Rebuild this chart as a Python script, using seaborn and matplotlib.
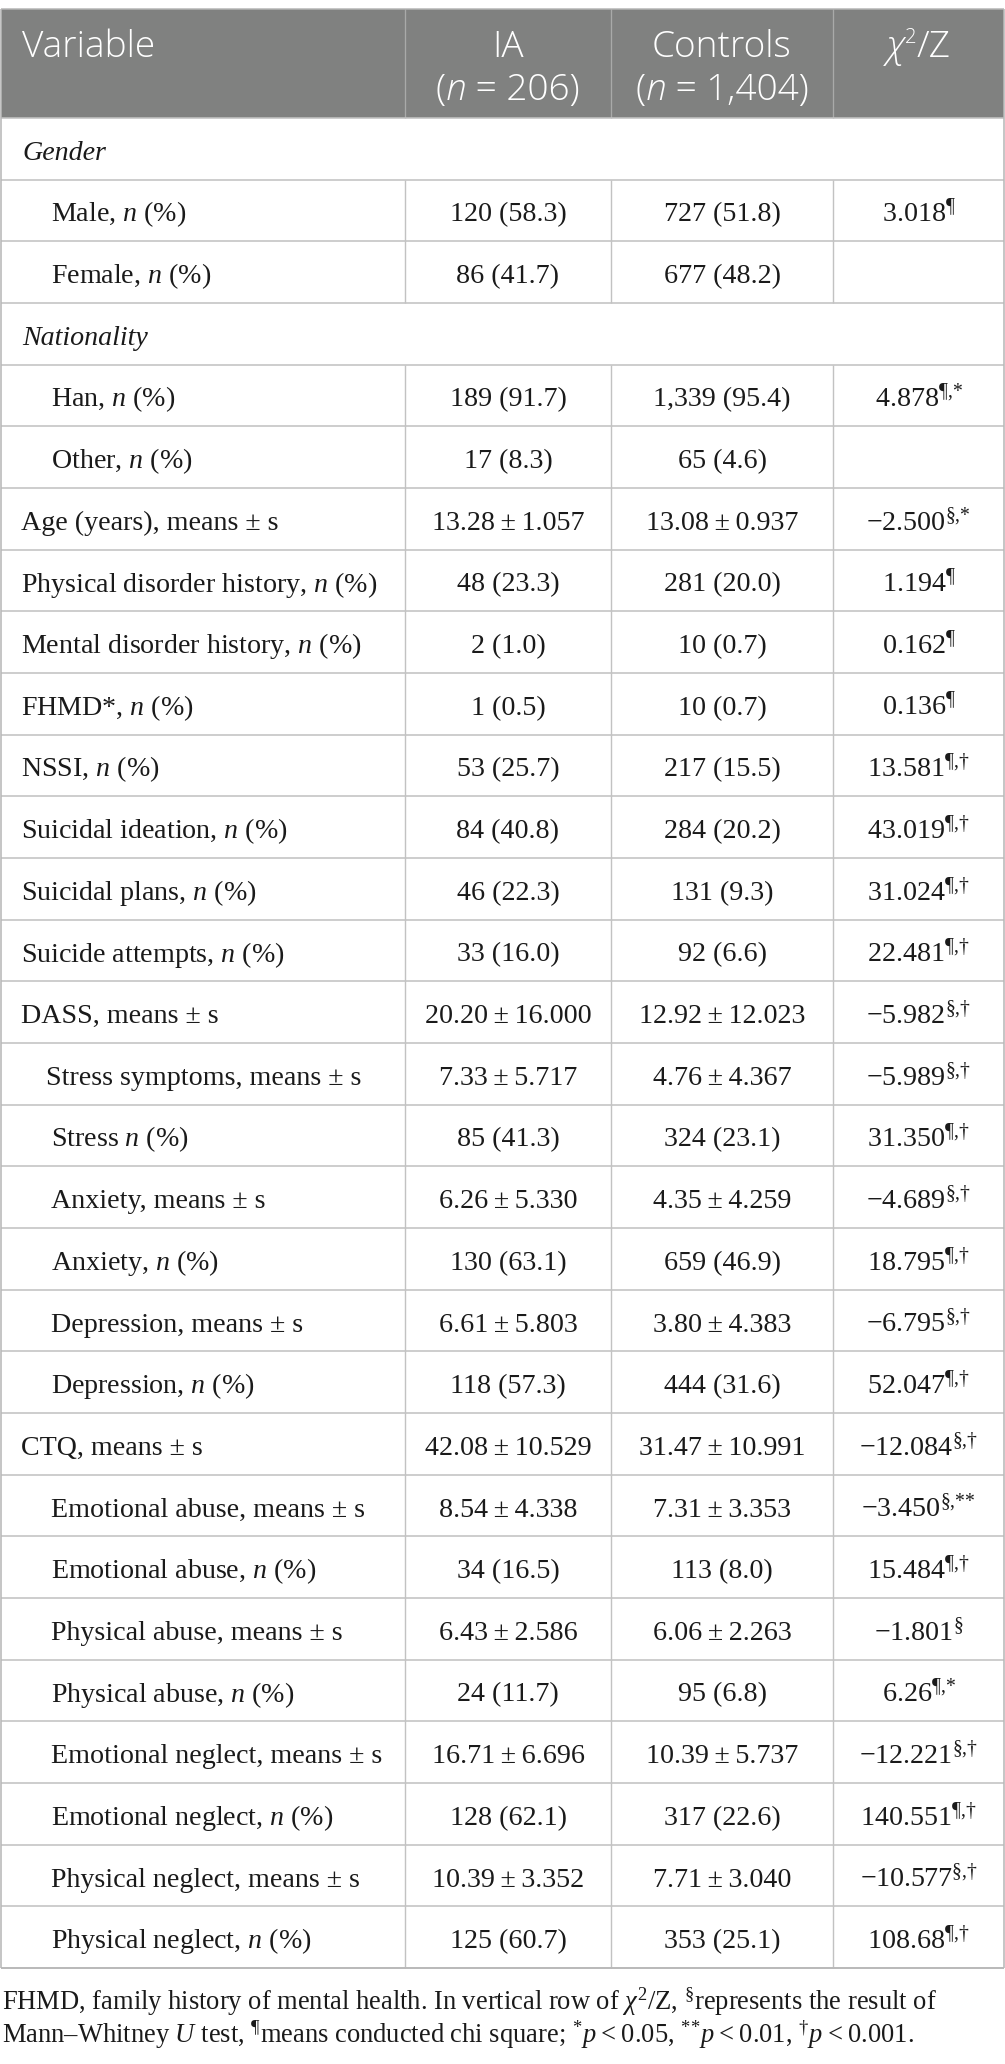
import matplotlib
matplotlib.use("Agg")
import matplotlib.pyplot as plt
import seaborn as sns
from matplotlib.patches import Rectangle

# ---------------- data ----------------
header_titles = ["Variable", "IA", "Controls", "χ2/Z"]
header_sizes = ["", "206", "1,404", ""]

variables = [
    "Gender", "Male, $n$ (%)", "Female, $n$ (%)",
    "Nationality", "Han, $n$ (%)", "Other, $n$ (%)",
    "Age (years), means ± s",
    "Physical disorder history, $n$ (%)",
    "Mental disorder history, $n$ (%)",
    "FHMD*, $n$ (%)",
    "NSSI, $n$ (%)",
    "Suicidal ideation, $n$ (%)",
    "Suicidal plans, $n$ (%)",
    "Suicide attempts, $n$ (%)",
    "DASS, means ± s",
    "Stress symptoms, means ± s",
    "Stress $n$ (%)",
    "Anxiety, means ± s",
    "Anxiety, $n$ (%)",
    "Depression, means ± s",
    "Depression, $n$ (%)",
    "CTQ, means ± s",
    "Emotional abuse, means ± s",
    "Emotional abuse, $n$ (%)",
    "Physical abuse, means ± s",
    "Physical abuse, $n$ (%)",
    "Emotional neglect, means ± s",
    "Emotional neglect, $n$ (%)",
    "Physical neglect, means ± s",
    "Physical neglect, $n$ (%)",
]

# row kind: g = group heading, 0 = top level, 1 = sub item, s = sub item (less indented)
row_kind = ["g", "1", "1", "g", "1", "1", "0", "0", "0", "0", "0", "0", "0", "0",
            "0", "s", "1", "1", "1", "1", "1", "0", "1", "1", "1", "1", "1", "1", "1", "1"]

PM = "\u2009±\u2009"
ia_values = [
    "", "120 (58.3)", "86 (41.7)", "", "189 (91.7)", "17 (8.3)",
    "13.28" + PM + "1.057", "48 (23.3)", "2 (1.0)", "1 (0.5)", "53 (25.7)",
    "84 (40.8)", "46 (22.3)", "33 (16.0)", "20.20" + PM + "16.000",
    "7.33" + PM + "5.717", "85 (41.3)", "6.26" + PM + "5.330", "130 (63.1)",
    "6.61" + PM + "5.803", "118 (57.3)", "42.08" + PM + "10.529",
    "8.54" + PM + "4.338", "34 (16.5)", "6.43" + PM + "2.586", "24 (11.7)",
    "16.71" + PM + "6.696", "128 (62.1)", "10.39" + PM + "3.352", "125 (60.7)",
]
control_values = [
    "", "727 (51.8)", "677 (48.2)", "", "1,339 (95.4)", "65 (4.6)",
    "13.08" + PM + "0.937", "281 (20.0)", "10 (0.7)", "10 (0.7)", "217 (15.5)",
    "284 (20.2)", "131 (9.3)", "92 (6.6)", "12.92" + PM + "12.023",
    "4.76" + PM + "4.367", "324 (23.1)", "4.35" + PM + "4.259", "659 (46.9)",
    "3.80" + PM + "4.383", "444 (31.6)", "31.47" + PM + "10.991",
    "7.31" + PM + "3.353", "113 (8.0)", "6.06" + PM + "2.263", "95 (6.8)",
    "10.39" + PM + "5.737", "317 (22.6)", "7.71" + PM + "3.040", "353 (25.1)",
]
stat_values = [
    "", "3.018", "", "", "4.878", "", "\u22122.500", "1.194", "0.162", "0.136",
    "13.581", "43.019", "31.024", "22.481", "\u22125.982", "\u22125.989",
    "31.350", "\u22124.689", "18.795", "\u22126.795", "52.047", "\u221212.084",
    "\u22123.450", "15.484", "\u22121.801", "6.26", "\u221212.221", "140.551",
    "\u221210.577", "108.68",
]
stat_marks = [
    "", "¶", "", "", "¶,*", "", "§,*", "¶", "¶", "¶",
    "¶,†", "¶,†", "¶,†", "¶,†", "§,†", "§,†",
    "¶,†", "§,†", "¶,†", "§,†", "¶,†", "§,†",
    "§,**", "¶,†", "§", "¶,*", "§,†", "¶,†",
    "§,†", "¶,†",
]
footnote_lines = [
    r"FHMD, family history of mental health. In vertical row of $\chi^2$/Z, $^{\mathrm{§}}$represents the result of",
    "Mann\u2013Whitney $U$ test, $^{\\mathrm{¶}}$means conducted chi square; "
    "$^{{*}}p$\u2009<\u20090.05, $^{{*}{*}}p$\u2009<\u20090.01, $^{\\mathrm{†}}p$\u2009<\u20090.001.",
]

# ---------------- style ----------------
sns.set_theme(style="white")
plt.rcParams["font.family"] = ["Liberation Serif", "DejaVu Serif"]
plt.rcParams["mathtext.fontset"] = "custom"
plt.rcParams["mathtext.rm"] = "Liberation Serif"
plt.rcParams["mathtext.it"] = "Liberation Serif:italic"
plt.rcParams["mathtext.bf"] = "Liberation Serif:bold"

W, H = 1005, 2064
PT = 72 / 100.0
fig = plt.figure(figsize=(W / 100, H / 100), dpi=100)
ax = fig.add_axes([0, 0, 1, 1])
ax.set_xlim(0, W)
ax.set_ylim(H, 0)
ax.axis("off")
renderer = fig.canvas.get_renderer()

col_edges = [1, 405, 611, 833, 1004]
head_top, head_bot = 9, 118
table_bot = 1968
n_rows = len(variables)
row_h = (table_bot - head_bot) / n_rows

HEAD_COL = "#808180"
LINE_COL = "#c2c2c2"
TXT = "#1a1a1a"
body_fs = 28 * PT
head_fs = 37 * PT
hfont = ["Open Sans", "DejaVu Sans"]


def runs_centered(cx, y, runs):
    """Draw a sequence of (text, style, scale, dy) pieces centred at cx."""
    arts = []
    for txt, style, scale, dy in runs:
        t = ax.text(0, y + dy, txt, ha="left", va="baseline", color="white",
                    fontsize=head_fs * scale, family=hfont, fontweight=300,
                    style=style, zorder=3)
        arts.append(t)
    widths = [a.get_window_extent(renderer).width for a in arts]
    x = cx - sum(widths) / 2
    for a, w in zip(arts, widths):
        a.set_x(x)
        x += w


# header
ax.add_patch(Rectangle((col_edges[0], head_top), col_edges[-1] - col_edges[0],
                       head_bot - head_top, facecolor=HEAD_COL, edgecolor="none", zorder=1))
for x in col_edges[1:-1]:
    ax.vlines(x, head_top, head_bot, color="#a9aaa9", lw=1.3 * PT, zorder=2)
ax.hlines(head_top, col_edges[0], col_edges[-1], color="#b5b5b5", lw=1.5 * PT, zorder=2)

for j, (title, size) in enumerate(zip(header_titles, header_sizes)):
    if j == 0:
        ax.text(22, 57, title, ha="left", va="baseline", color="white", fontweight=300,
                fontsize=head_fs, family=hfont, zorder=3)
        continue
    cx = (col_edges[j] + col_edges[j + 1]) / 2
    if title.startswith("χ"):
        runs_centered(cx, 57, [("χ", "italic", 1.0, 0), ("2", "normal", 0.55, -14),
                               ("/Z", "normal", 1.0, 0)])
    else:
        runs_centered(cx, 57, [(title, "normal", 1.0, 0)])
    if size:
        runs_centered(cx, 100, [("(", "normal", 1.0, 0), ("n", "italic", 1.0, 0),
                                (" = " + size + ")", "normal", 1.0, 0)])

# rows
indent = {"g": 22, "0": 21, "1": 51, "s": 46}
for i in range(n_rows):
    top = head_bot + i * row_h
    bot = top + row_h
    base = top + 0.68 * row_h
    kind = row_kind[i]
    ax.hlines(bot, col_edges[0], col_edges[-1], color=LINE_COL, lw=1.6 * PT, zorder=2)
    if kind != "g":
        ax.vlines(col_edges[1:-1], top, bot, color=LINE_COL, lw=1.4 * PT, zorder=2)
        ax.text(indent[kind], base, variables[i], ha="left", va="baseline",
                fontsize=body_fs, color=TXT, zorder=3)
    else:
        ax.text(indent[kind], base, variables[i], ha="left", va="baseline",
                fontsize=body_fs, color=TXT, style="italic", zorder=3)
    for j, vals in enumerate([ia_values, control_values]):
        if vals[i]:
            cx = (col_edges[j + 1] + col_edges[j + 2]) / 2
            ax.text(cx, base, vals[i], ha="center", va="baseline",
                    fontsize=body_fs, color=TXT, zorder=3)
    if stat_values[i]:
        cx = (col_edges[3] + col_edges[4]) / 2
        mark = stat_marks[i].replace(",", "{,}").replace("*", "{*}")
        label = stat_values[i] + r"$^{\mathrm{" + mark + "}}$"
        ax.text(cx, base, label, ha="center", va="baseline",
                fontsize=body_fs, color=TXT, zorder=3)

ax.hlines(head_bot, col_edges[0], col_edges[-1], color=LINE_COL, lw=1.6 * PT, zorder=2)
ax.vlines([col_edges[0], col_edges[-1]], head_top, table_bot, color="#b8b8b8", lw=1.6 * PT, zorder=2)
ax.hlines(table_bot, col_edges[0], col_edges[-1], color="#b8b8b8", lw=1.8 * PT, zorder=2)

# footnote
for k, line in enumerate(footnote_lines):
    ax.text(2, 2010 + 33 * k, line, ha="left", va="baseline",
            fontsize=26.5 * PT, color=TXT, zorder=3)

fig.savefig("out.png", dpi=100)
